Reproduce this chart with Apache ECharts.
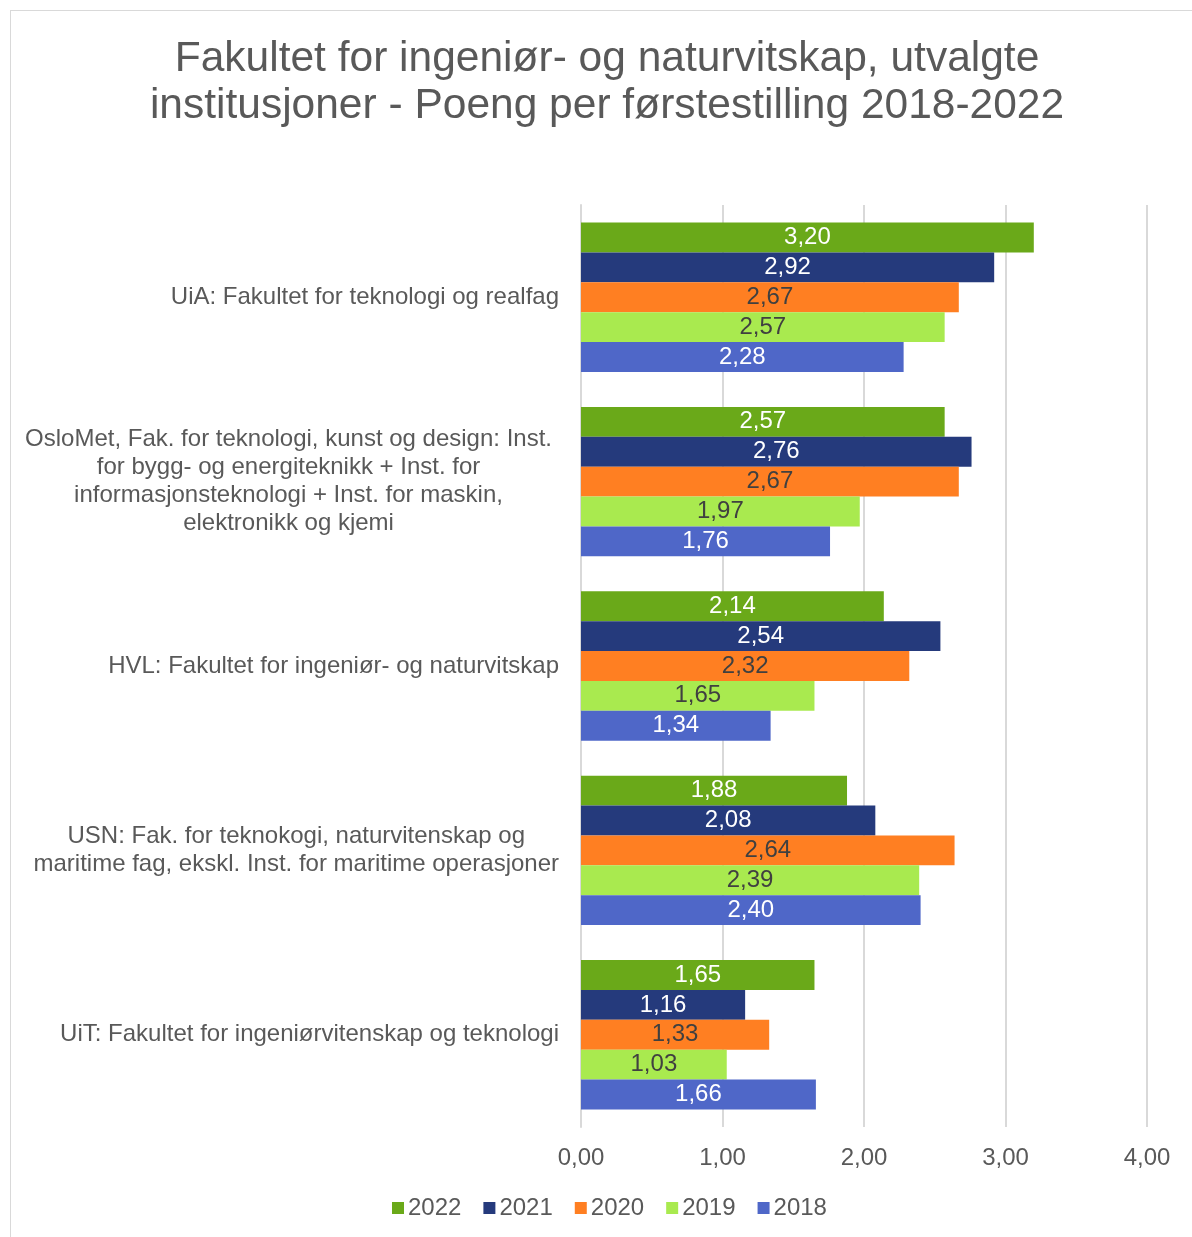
<!DOCTYPE html>
<html>
<head>
<meta charset="utf-8">
<script src="https://cdn.jsdelivr.net/npm/echarts@6/dist/echarts.min.js"></script>
<style>
  html, body { margin: 0; padding: 0; background: #fff; }
  #chart { width: 1192px; height: 1237px; }
  .frame { position: absolute; left: 10px; top: 10px; width: 1300px; height: 1300px; border: 1px solid #d9d9d9; pointer-events: none; }
</style>
</head>
<body>
<div class="frame"></div>
<div id="chart"></div>
<script>
// kategorier (ovenfra og ned)
const categories = [
  'UiA: Fakultet for teknologi og realfag',
  'OsloMet, Fak. for teknologi, kunst og design: Inst.\nfor bygg- og energiteknikk + Inst. for\ninformasjonsteknologi + Inst. for maskin,\nelektronikk og kjemi',
  'HVL: Fakultet for ingeniør- og naturvitskap',
  'USN: Fak. for teknokogi, naturvitenskap og\nmaritime fag, ekskl. Inst. for maritime operasjoner',
  'UiT: Fakultet for ingeniørvitenskap og teknologi'
]
const years = ['2022', '2021', '2020', '2019', '2018']
const v2022 = [3.20, 2.57, 2.14, 1.88, 1.65]
const v2021 = [2.92, 2.76, 2.54, 2.08, 1.16]
const v2020 = [2.67, 2.67, 2.32, 2.64, 1.33]
const v2019 = [2.57, 1.97, 1.65, 2.39, 1.03]
const v2018 = [2.28, 1.76, 1.34, 2.40, 1.66]
const xTicks = [0, 1, 2, 3, 4]

const colors = ['#6aa919', '#253a7c', '#ff7f22', '#a9ea4f', '#4f67c8']
const labelColors = ['#ffffff', '#ffffff', '#404040', '#404040', '#ffffff']
const values = [v2022, v2021, v2020, v2019, v2018]
const font = 'Liberation Sans, Arial, sans-serif'

var myChart = echarts.init(document.getElementById('chart'))
const option = {
  animation: false,
  title: {
    text: 'Fakultet for ingeniør- og naturvitskap, utvalgte\ninstitusjoner - Poeng per førstestilling 2018-2022',
    left: 602,
    textAlign: 'center',
    top: 31,
    textStyle: { fontFamily: font, fontSize: 42.5, fontWeight: 'normal', color: '#595959', lineHeight: 47 }
  },
  legend: {
    data: years,
    top: 1191,
    left: 387,
    itemWidth: 12,
    itemHeight: 12,
    itemGap: 22,
    icon: 'rect',
    textStyle: { fontFamily: font, fontSize: 24, color: '#595959', padding: [0, 0, 0, -1] }
  },
  grid: { left: 581, right: 45, top: 205, bottom: 110, containLabel: false },
  xAxis: {
    type: 'value',
    min: xTicks[0],
    max: xTicks[xTicks.length - 1],
    interval: 1,
    axisLine: { show: false },
    axisTick: { show: false },
    splitLine: { lineStyle: { color: '#d9d9d9', width: 2 } },
    axisLabel: {
      fontFamily: font, fontSize: 24, color: '#595959', margin: 19,
      formatter: v => v.toFixed(2).replace('.', ',')
    }
  },
  yAxis: {
    type: 'category',
    data: categories,
    inverse: true,
    axisLine: { show: true, lineStyle: { color: '#d9d9d9', width: 2 } },
    axisTick: { show: false },
    axisLabel: {
      fontFamily: font, fontSize: 24, color: '#595959', margin: 22, lineHeight: 28,
      // lange etiketter: linjene sentreres i blokken
      formatter: (v, i) => {
        const key = v.split('\n').length > 2 ? 'w' : 'c'
        return v.split('\n').map(l => '{' + key + '|' + l + '}').join('\n')
      },
      rich: {
        c: { align: 'center', fontFamily: font, fontSize: 24, color: '#595959', lineHeight: 28 },
        w: { align: 'center', fontFamily: font, fontSize: 24, color: '#595959', lineHeight: 28, padding: [0, 7, 0, 0] }
      }
    }
  },
  series: years.map((y, i) => ({
    name: y,
    type: 'bar',
    data: values[i],
    barGap: '0%',
    barCategoryGap: '19%',
    itemStyle: { color: colors[i] },
    label: {
      show: true,
      position: 'inside',
      fontFamily: font,
      fontSize: 24,
      color: labelColors[i],
      formatter: p => p.value.toFixed(2).replace('.', ',')
    }
  }))
}
myChart.setOption(option)
</script>
</body>
</html>
